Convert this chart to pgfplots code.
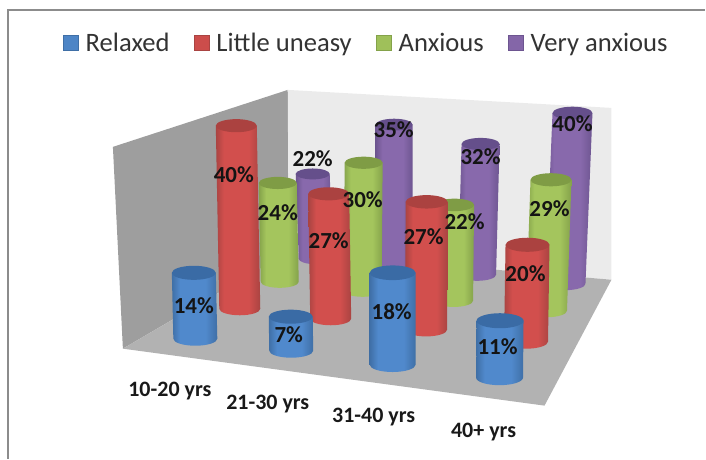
\documentclass[border=0pt]{standalone}
\usepackage{pgfplots}
\usepackage{pgfplotstable}
\usepackage{fontspec}
\setmainfont{Carlito}
\pgfplotsset{compat=1.18}

% Each cylinder: base centre (x,y), value v, pixels per percent k, lean of the
% top dx, radius rx, and the place of its value label (lx,ly).
\pgfplotstableread{
x     y   v   k     dx    rx    lx   ly
316   259 22  3.86  -3    17    313  159
394.5 263 35  3.95  0     18.5  394  130
477.5 275 32  4.09  3.5   19    481  157
566   284 40  4.27  7     20    573  124
}\tblVery
\pgfplotstableread{
x     y   v   k     dx    rx    lx   ly
280   282 24  4.12  -2    19    278  213
363   291 30  4.27  1     19    363  200
454   301 22  4.36  1     19.5  465  222
547   311 29  4.52  4.5   20.5  550  209
}\tblAnx
\pgfplotstableread{
x     y   v   k     dx    rx    lx   ly
240   309 40  4.58  -3.5  20.5  234  175
331   319 27  4.63  -2    20.5  329  241
426.5 330 27  4.74  0.5   21    424  237
526.5 342 20  4.85  1.5   22    526  274
}\tblUneasy
\pgfplotstableread{
x     y   v   k     dx    rx    lx   ly
195.5 339 14  4.71  -1.5  22    194  306
291.5 351 7   4.86  -0.5  22    289  335
393   365 18  5.11  0     23    392  312
500   378 11  5.18  0.5   23.5  498  347
}\tblRelaxed

\definecolor{blueEdge}{HTML}{3F6FA6}\definecolor{blueBody}{HTML}{5089CC}\definecolor{blueTop}{HTML}{3A6BA5}
\definecolor{redEdge}{HTML}{A94442}\definecolor{redBody}{HTML}{D24F4D}\definecolor{redTop}{HTML}{AB4240}
\definecolor{greenEdge}{HTML}{84A24A}\definecolor{greenBody}{HTML}{A4C55D}\definecolor{greenTop}{HTML}{7F9C45}
\definecolor{purpleEdge}{HTML}{6D5590}\definecolor{purpleBody}{HTML}{8869AC}\definecolor{purpleTop}{HTML}{654F8B}

% One plot mark per colour: a cylinder standing on the data point, as tall as v*k.
\newcommand{\declarecylinder}[1]{%
  \pgfdeclarehorizontalshading{#1cyl}{100bp}{%
    color(0bp)=(#1Edge); color(25bp)=(#1Edge); color(34bp)=(#1Body); color(62bp)=(#1Body);
    color(75bp)=(#1Edge); color(100bp)=(#1Edge)}%
  \pgfdeclareplotmark{cyl#1}{%
    \pgfmathsetmacro{\cylh}{\cylv*\cylk}%
    \pgfmathsetmacro{\cylry}{0.32*\cylrx}%
    \shade[shading=#1cyl, draw=none]
      (-\cylrx pt,0pt) -- (\cyldx pt-\cylrx pt,\cylh pt) -- (\cyldx pt+\cylrx pt,\cylh pt)
      -- (\cylrx pt,0pt) arc[start angle=0,end angle=-180,x radius=\cylrx pt,y radius=\cylry pt] -- cycle;
    \fill[#1Top, draw=none] (\cyldx pt,\cylh pt) ellipse[x radius=\cylrx pt,y radius=\cylry pt];
  }%
}
\declarecylinder{blue}\declarecylinder{red}\declarecylinder{green}\declarecylinder{purple}

\pgfplotsset{
  cylinders/.style={
    forget plot, only marks, scatter, mark=cyl#1,
    visualization depends on={\thisrow{v} \as \cylv},
    visualization depends on={\thisrow{k} \as \cylk},
    visualization depends on={\thisrow{dx} \as \cyldx},
    visualization depends on={\thisrow{rx} \as \cylrx},
  },
  valuelabels/.style={
    forget plot, draw=none, mark=none, point meta=explicit,
    nodes near coords={\pgfmathprintnumber[assume math mode=true]{\pgfplotspointmeta}\%},
    nodes near coords style={anchor=center, inner sep=0pt, text=black!92,
      font=\fontsize{23}{26}\selectfont\bfseries},
  },
  legendbox/.style={only marks, mark=square*, mark size=7.5pt,
    mark options={draw=#1Edge, fill=#1Body!85!#1Edge, line width=0.8pt}},
}

\begin{document}
\begin{tikzpicture}
\begin{axis}[
  scale only axis, width=706pt, height=459pt,
  xmin=0, xmax=706, ymin=0, ymax=459, y dir=reverse,
  axis lines=none, clip=false,
  legend columns=-1,
  legend style={at={(axis cs:367,43)}, anchor=center, draw=none, fill=none,
    font=\fontsize{26.6}{30}\selectfont, text=black!80,
    /tikz/every odd column/.append style={column sep=5pt},
    /tikz/every even column/.append style={column sep=23pt}},
]
\addlegendimage{legendbox=blue}\addlegendentry{Relaxed}
\addlegendimage{legendbox=red}\addlegendentry{Little uneasy}
\addlegendimage{legendbox=green}\addlegendentry{Anxious}
\addlegendimage{legendbox=purple}\addlegendentry{Very anxious}

% Full page extent
\path (axis cs:0,0) rectangle (axis cs:706,459);

% Chart frame
\addplot[forget plot, draw=black!45, line width=1.3pt] coordinates {(8,459) (8,10) (706,10)};

% Walls and floor
\addplot[forget plot, draw=none, fill=black!38] coordinates {(113,147) (288,90) (289,252) (123,349)} --cycle;
\addplot[forget plot, draw=none, fill=black!8] coordinates {(288,90) (612,108) (612,280) (289,252)} --cycle;
\addplot[forget plot, draw=none, fill=black!30] coordinates {(123,349) (289,252) (612,280) (545,406)} --cycle;

% Cylinders, back row first
\addplot[cylinders=purple] table {\tblVery};
\addplot[cylinders=green] table {\tblAnx};
\addplot[cylinders=red] table {\tblUneasy};
\addplot[cylinders=blue] table {\tblRelaxed};

% Value labels
\addplot[valuelabels] table[x=lx,y=ly,meta=v] {\tblVery};
\addplot[valuelabels] table[x=lx,y=ly,meta=v] {\tblAnx};
\addplot[valuelabels] table[x=lx,y=ly,meta=v] {\tblUneasy};
\addplot[valuelabels] table[x=lx,y=ly,meta=v] {\tblRelaxed};

% Age groups
\node[font=\fontsize{22}{26}\selectfont\bfseries, text=black!90] at (axis cs:170,391) {10-20 yrs};
\node[font=\fontsize{22}{26}\selectfont\bfseries, text=black!90] at (axis cs:268,404) {21-30 yrs};
\node[font=\fontsize{22}{26}\selectfont\bfseries, text=black!90] at (axis cs:374,417) {31-40 yrs};
\node[font=\fontsize{22}{26}\selectfont\bfseries, text=black!90] at (axis cs:484,432) {40+ yrs};
\end{axis}
\end{tikzpicture}
\end{document}
